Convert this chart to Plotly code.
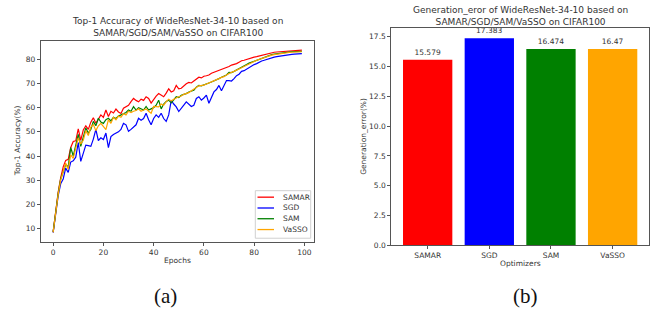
import plotly.graph_objects as go

epochs = list(range(100))

samar = [8.5, 17.5, 25.0, 31.0, 35.5, 38.2, 38.6, 43.5, 46.0, 46.3,
         51.2, 46.5, 50.8, 52.5, 51.0, 54.0, 55.8, 53.5, 55.2, 57.0,
         56.0, 59.0, 56.3, 58.5, 57.8, 59.4, 58.2, 57.6, 59.8, 60.5,
         61.0, 62.5, 63.8, 63.0, 62.4, 63.5, 63.0, 64.5, 63.8, 61.9,
         63.5, 64.8, 65.8, 65.0, 64.5, 66.0, 67.8, 66.5, 67.0, 69.2,
         67.8, 68.0, 69.0, 69.9, 70.4, 70.2, 71.0, 71.8, 72.6, 72.3,
         73.0, 73.2, 73.5, 74.2, 74.6, 75.0, 75.3, 75.8, 76.0, 76.4,
         77.0, 77.6, 77.8, 78.2, 78.8, 79.4, 79.6, 80.0, 80.3, 80.6,
         80.9, 81.1, 81.4, 81.7, 82.0, 82.3, 82.5, 82.7, 82.9, 83.0,
         83.1, 83.2, 83.3, 83.4, 83.5, 83.6, 83.7, 83.7, 83.8, 83.8]

sgd = [8.3, 16.0, 23.5, 28.5, 30.5, 35.0, 33.2, 37.5, 38.0, 39.5,
       45.5, 37.8, 41.5, 44.5, 44.3, 44.0, 47.0, 51.0, 46.4, 47.5,
       46.8, 49.5, 43.5, 48.0, 48.9, 49.5, 50.0, 51.0, 53.5, 52.9,
       50.2, 51.0, 52.0, 52.9, 55.6, 54.8, 55.5, 57.7, 55.0, 52.9,
       55.5, 57.0, 56.0, 57.7, 55.5, 54.3, 57.0, 63.0, 61.5, 60.3,
       58.4, 59.5, 61.0, 62.4, 61.5, 60.5, 61.0, 63.8, 64.5, 63.1,
       64.0, 65.2, 61.8, 64.5, 66.5, 67.5, 69.2, 67.0, 69.5, 71.2,
       71.2, 71.0, 72.0, 73.2, 73.8, 75.0, 75.3, 76.0, 76.5, 77.3,
       77.8, 78.2, 78.8, 79.3, 79.6, 80.0, 80.3, 80.6, 80.9, 81.1,
       81.3, 81.5, 81.7, 81.8, 81.9, 82.0, 82.1, 82.2, 82.2, 82.3]

sam = [8.6, 17.0, 24.5, 30.5, 34.0, 36.5, 35.5, 43.5, 40.0, 44.5,
       48.9, 44.0, 47.5, 51.6, 49.5, 51.0, 54.3, 52.5, 55.6, 54.0,
       53.5, 55.0, 55.6, 54.5, 56.0, 55.5, 56.5, 57.0, 57.7, 58.0,
       59.0, 58.5, 60.4, 59.0, 60.0, 59.6, 59.0, 60.5, 59.0, 59.5,
       60.0, 61.0, 63.1, 59.5, 61.5, 62.5, 63.1, 62.0, 63.5, 64.5,
       64.2, 65.1, 65.5, 65.8, 66.5, 67.0, 67.2, 68.5, 69.2, 69.0,
       69.5, 70.0, 70.2, 70.6, 71.0, 71.5, 72.0, 72.6, 73.0, 73.5,
       74.6, 74.5, 75.0, 75.5, 76.0, 76.5, 77.2, 77.8, 78.4, 78.8,
       79.3, 79.8, 80.2, 80.6, 80.9, 81.3, 81.6, 81.9, 82.1, 82.3,
       82.5, 82.7, 82.8, 82.9, 83.0, 83.1, 83.2, 83.2, 83.3, 83.3]

vasso = [8.4, 16.5, 24.0, 30.0, 33.5, 37.0, 34.5, 40.5, 39.0, 43.5,
         47.5, 45.0, 46.5, 50.5, 48.5, 52.0, 53.0, 50.5, 52.5, 53.5,
         52.0, 50.9, 55.0, 53.5, 56.0, 55.0, 56.5, 56.0, 57.5, 57.0,
         58.5, 58.0, 58.5, 58.8, 59.5, 58.5, 59.0, 59.5, 58.5, 57.7,
         60.5, 60.3, 60.3, 61.5, 61.0, 62.5, 63.5, 62.8, 63.5, 64.0,
         64.5, 64.8, 65.5, 65.8, 66.2, 67.0, 67.5, 68.3, 69.0, 69.0,
         69.3, 69.8, 70.2, 70.5, 71.0, 71.5, 72.0, 72.5, 72.8, 73.5,
         74.2, 74.6, 75.0, 75.4, 76.0, 76.5, 77.0, 77.6, 78.2, 78.6,
         79.1, 79.6, 80.0, 80.4, 80.7, 81.1, 81.4, 81.7, 81.9, 82.1,
         82.3, 82.5, 82.6, 82.7, 82.8, 82.9, 83.0, 83.0, 83.1, 83.1]

series_names = ["SAMAR", "SGD", "SAM", "VaSSO"]
optimizers = ["SAMAR", "SGD", "SAM", "VaSSO"]
gen_error = [15.579, 17.383, 16.474, 16.47]
gen_error_labels = ["15.579", "17.383", "16.474", "16.47"]
colors = ["red", "blue", "green", "orange"]

x_ticks = [0, 20, 40, 60, 80, 100]
y_ticks_left = [10, 20, 30, 40, 50, 60, 70, 80]
y_ticks_right = [0, 2.5, 5.0, 7.5, 10.0, 12.5, 15.0, 17.5]

W, H = 665, 320
FONT = "DejaVu Sans"
TXT = "#333333"
TICK = 7.5


def px(x):
    return x / W


def py(y):
    return 1 - y / H


fig = go.Figure()
for name, vals, c in zip(series_names, [samar, sgd, sam, vasso], colors):
    fig.add_trace(go.Scatter(x=epochs, y=vals, mode="lines", name=name,
                             line=dict(color=c, width=1.2), showlegend=False,
                             xaxis="x", yaxis="y"))

fig.add_trace(go.Bar(x=optimizers, y=gen_error, marker=dict(color=colors, line=dict(width=0)),
                     width=0.8, text=gen_error_labels, textposition="outside",
                     textfont=dict(size=TICK, color=TXT, family=FONT),
                     cliponaxis=False, showlegend=False, xaxis="x2", yaxis="y2"))

axis_common = dict(showline=True, linecolor="#555555", linewidth=1, mirror=True,
                   ticks="outside", ticklen=3, tickcolor="#555555",
                   tickfont=dict(size=TICK, color=TXT, family=FONT),
                   showgrid=False, zeroline=False)

fig.update_layout(
    width=W, height=H,
    margin=dict(l=0, r=0, t=0, b=0),
    paper_bgcolor="white", plot_bgcolor="white",
    font=dict(family=FONT, color=TXT),
    showlegend=False,
    xaxis=dict(domain=[px(40.7), px(314.3)], range=[-4.95, 103.95], tickvals=x_ticks,
               anchor="y", **axis_common),
    yaxis=dict(domain=[py(245.7), py(41.3)], range=[4.5, 87.7], tickvals=y_ticks_left,
               anchor="x", **axis_common),
    xaxis2=dict(domain=[px(391.3), px(649)], range=[-0.59, 3.59], type="category",
                anchor="y2", **axis_common),
    yaxis2=dict(domain=[py(249.3), py(28.3)], range=[0, 18.25], tickvals=y_ticks_right,
                tickformat=".1f", anchor="x2", **axis_common),
)

# legend box (drawn in paper coordinates, matplotlib style)
fig.add_shape(type="rect", xref="paper", yref="paper",
              x0=px(255.3), x1=px(310.7), y0=py(242), y1=py(193.7),
              line=dict(color="#d0d0d0", width=1), fillcolor="rgba(255,255,255,0.85)")
row_y = [200.3, 211.3, 222.2, 233.2]
for name, c, ry in zip(series_names, colors, row_y):
    fig.add_shape(type="line", xref="paper", yref="paper",
                  x0=px(257.5), x1=px(274), y0=py(ry), y1=py(ry),
                  line=dict(color=c, width=1.3))
    fig.add_annotation(text=name, x=px(280.5), y=py(ry), xref="paper", yref="paper",
                       showarrow=False, xanchor="left", yanchor="middle",
                       font=dict(size=TICK, color=TXT, family=FONT))

ann = [
    dict(text="Top-1 Accuracy of WideResNet-34-10 based on<br>SAMAR/SGD/SAM/VaSSO on CIFAR100",
         x=px(177.5), y=py(27), font=dict(size=9, color=TXT, family=FONT)),
    dict(text="Generation_eror of WideResNet-34-10 based on<br>SAMAR/SGD/SAM/VaSSO on CIFAR100",
         x=px(520), y=py(16), font=dict(size=9, color=TXT, family=FONT)),
    dict(text="Epochs", x=px(177.5), y=py(265), font=dict(size=TICK, color=TXT, family=FONT)),
    dict(text="Optimizers", x=px(520), y=py(268), font=dict(size=TICK, color=TXT, family=FONT)),
    dict(text="Top-1 Accuracy(%)", x=px(17), y=py(143.5), textangle=-90,
         font=dict(size=TICK, color=TXT, family=FONT)),
    dict(text="Generation_error(%)", x=px(364), y=py(139), textangle=-90,
         font=dict(size=TICK, color=TXT, family=FONT)),
    dict(text="(a)", x=px(165), y=py(301), font=dict(size=21, color="#111111", family="Liberation Serif")),
    dict(text="(b)", x=px(525), y=py(301), font=dict(size=21, color="#111111", family="Liberation Serif")),
]
for a in ann:
    a.update(xref="paper", yref="paper", showarrow=False, xanchor="center", yanchor="middle")
    fig.add_annotation(**a)

fig.write_html("out.html", config={"displayModeBar": False},
               post_script="document.body.style.margin='0px';")
